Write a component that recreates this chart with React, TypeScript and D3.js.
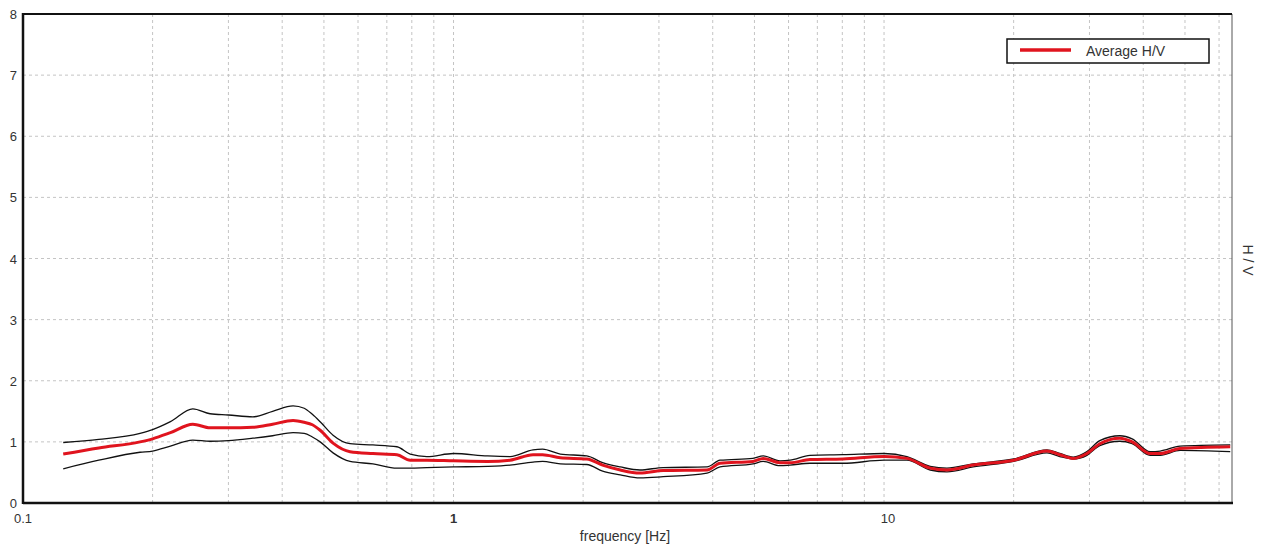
import React from "react";
import * as d3 from "d3";

const freqs = [0.124, 0.15, 0.187, 0.2, 0.22, 0.248, 0.272, 0.3, 0.342, 0.38, 0.424, 0.45, 0.47, 0.49, 0.525, 0.575, 0.65, 0.739, 0.793, 0.867, 1.0, 1.2, 1.353, 1.53, 1.61, 1.77, 2.04, 2.22, 2.44, 2.71, 3.07, 3.88, 4.16, 4.96, 5.24, 5.73, 6.05, 6.73, 8.03, 10, 11.3, 12.8, 14.0, 16.1, 20, 23.9, 25.6, 27.5, 29.6, 31.7, 35.3, 37.7, 41.5, 43.8, 48.7, 63.7];
const avgHV = [0.80, 0.90, 1.0, 1.05, 1.15, 1.29, 1.23, 1.23, 1.24, 1.29, 1.35, 1.32, 1.28, 1.19, 0.98, 0.84, 0.81, 0.79, 0.70, 0.70, 0.69, 0.68, 0.70, 0.79, 0.79, 0.74, 0.72, 0.62, 0.54, 0.49, 0.53, 0.54, 0.65, 0.68, 0.73, 0.66, 0.66, 0.71, 0.72, 0.76, 0.73, 0.57, 0.54, 0.62, 0.70, 0.85, 0.79, 0.73, 0.81, 0.97, 1.06, 1.00, 0.81, 0.81, 0.89, 0.92];
const upperHV = [0.99, 1.04, 1.14, 1.20, 1.33, 1.54, 1.46, 1.44, 1.41, 1.50, 1.59, 1.55, 1.45, 1.33, 1.11, 0.97, 0.95, 0.92, 0.80, 0.76, 0.81, 0.77, 0.76, 0.87, 0.88, 0.80, 0.77, 0.66, 0.59, 0.54, 0.58, 0.59, 0.70, 0.73, 0.77, 0.69, 0.70, 0.78, 0.79, 0.81, 0.76, 0.60, 0.57, 0.64, 0.72, 0.87, 0.81, 0.75, 0.84, 1.02, 1.10, 1.05, 0.84, 0.85, 0.93, 0.95];
const lowerHV = [0.56, 0.70, 0.83, 0.85, 0.93, 1.03, 1.01, 1.02, 1.06, 1.10, 1.15, 1.14, 1.08, 1.00, 0.82, 0.68, 0.64, 0.57, 0.57, 0.58, 0.59, 0.60, 0.62, 0.67, 0.68, 0.64, 0.63, 0.52, 0.46, 0.41, 0.43, 0.49, 0.59, 0.64, 0.68, 0.61, 0.62, 0.65, 0.65, 0.70, 0.70, 0.54, 0.51, 0.59, 0.68, 0.82, 0.76, 0.72, 0.78, 0.94, 1.01, 0.97, 0.78, 0.78, 0.86, 0.84];

const yTicks = [0, 1, 2, 3, 4, 5, 6, 7, 8];
const xLabels = [0.1, 1, 10];
const xDomain = [0.1, 64.3];

const W = 1263;
const H = 549;
const M = { left: 23, right: 1232, top: 14, bottom: 503 };
const FONT = "'Liberation Sans', Arial, sans-serif";

export default function App() {
  const x = d3.scaleLog().domain(xDomain).range([M.left, M.right]);
  const y = d3.scaleLinear().domain([0, 8]).range([M.bottom, M.top]);

  const minorX: number[] = [];
  for (const dec of [0.1, 1, 10]) {
    for (let k = 1; k <= 9; k++) {
      const v = dec * k;
      if (v > xDomain[0] && v < xDomain[1]) minorX.push(v);
    }
  }

  const line = (vals: number[]) =>
    d3
      .line<number>()
      .x((_, i) => x(freqs[i]))
      .y((d) => y(d))
      .curve(d3.curveMonotoneX)(vals) || "";

  return (
    <svg width={W} height={H} style={{ position: "absolute", left: 0, top: 0, background: "#fff" }} fontFamily={FONT}>
      <rect x={0} y={0} width={W} height={H} fill="#fff" />
      {/* grid */}
      {yTicks.slice(1, -1).map((t) => (
        <line key={"gy" + t} x1={M.left} x2={M.right} y1={y(t)} y2={y(t)} stroke="#c4c4c4" strokeDasharray="3,3" strokeWidth={1} />
      ))}
      {minorX.map((v) => (
        <line key={"gx" + v} x1={x(v)} x2={x(v)} y1={M.top} y2={M.bottom} stroke="#c4c4c4" strokeDasharray="3,3" strokeWidth={1} />
      ))}
      {/* curves */}
      <path d={line(upperHV)} fill="none" stroke="#111" strokeWidth={1.3} />
      <path d={line(lowerHV)} fill="none" stroke="#111" strokeWidth={1.3} />
      <path d={line(avgHV)} fill="none" stroke="#e0141e" strokeWidth={3} />
      {/* frame */}
      <line x1={M.right} x2={M.right} y1={M.top} y2={M.bottom} stroke="#555" strokeWidth={1} />
      <line x1={M.left} x2={M.right} y1={M.top} y2={M.top} stroke="#111" strokeWidth={2} />
      <line x1={M.left} x2={M.right + 1} y1={M.bottom} y2={M.bottom} stroke="#111" strokeWidth={2.5} />
      <line x1={M.left} x2={M.left} y1={M.top - 1} y2={M.bottom + 1} stroke="#111" strokeWidth={2.5} />
      {/* y tick labels */}
      {yTicks.map((t) => (
        <text key={"ty" + t} x={17} y={y(t) + 5} textAnchor="end" fontSize={13} fill="#333">
          {t}
        </text>
      ))}
      {/* x tick labels */}
      {xLabels.map((v) => (
        <text key={"tx" + v} x={x(v) + (v === 10 ? 4 : 0)} y={523} textAnchor="middle" fontSize={13} fill="#333" fontWeight={v === 1 ? "bold" : "normal"}>
          {v}
        </text>
      ))}
      <text x={625} y={541} textAnchor="middle" fontSize={14} fill="#333">
        frequency [Hz]
      </text>
      <text transform={`translate(1243,260) rotate(90)`} textAnchor="middle" fontSize={14} fill="#333">
        H / V
      </text>
      {/* legend */}
      <rect x={1007} y={39} width={202} height={24} fill="#fff" stroke="#111" strokeWidth={1.5} />
      <line x1={1020} x2={1071} y1={50} y2={50} stroke="#e0141e" strokeWidth={3.5} />
      <text x={1086} y={56} fontSize={14} fill="#333">
        Average H/V
      </text>
    </svg>
  );
}
